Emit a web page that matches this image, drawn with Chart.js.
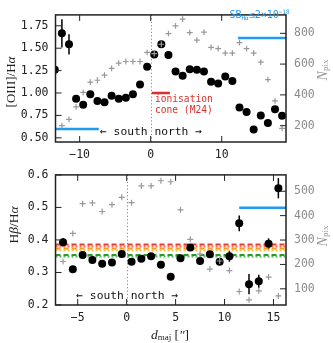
<!DOCTYPE html>
<html lang="en">
<head>
<meta charset="UTF-8">
<title>Line ratios along the major axis</title>
<script src="https://cdn.jsdelivr.net/npm/chart.js@4"></script>
<style>
    body { margin: 0; background: #fff; }
    canvas { position: absolute; left: 0; }
</style>
</head>
<body>
<canvas id="chartTop" width="333" height="160" style="top:0px"></canvas>
<canvas id="chartBottom" width="333" height="183" style="top:160px"></canvas>

<script>
// ---- top panel: [OIII]/Halpha and N_pix ----
const dTop = [-13.5, -12.5, -11.5, -10.5, -9.5, -8.5, -7.5, -6.5, -5.5, -4.5, -3.5,
    -2.5, -1.5, -0.5, 0.5, 1.5, 2.5, 3.5, 4.5, 5.5, 6.5, 7.5, 8.5, 9.5, 10.5,
    11.5, 12.5, 13.5, 14.5, 15.5, 16.5, 17.5, 18.5];
const oiiiHa = [1.26, 1.666, 1.544, 0.936, 0.869, 0.987, 0.912, 0.896, 0.97, 0.935, 0.946,
    0.987, 1.095, 1.294, 1.429, 1.544, 1.423, 1.24, 1.193, 1.264, 1.26, 1.24, 1.125, 1.105, 1.183,
    1.135, 0.838, 0.787, 0.592, 0.75, 0.666, 0.818, 0.747];
const oiiiErr = [0, 0.157, 0.113, 0, 0, 0, 0, 0, 0, 0, 0,
    0, 0, 0, 0, 0, 0, 0, 0, 0, 0, 0, 0, 0, 0,
    0, 0, 0, 0, 0, 0, 0, 0];
const nPixTop = [null, 200, 241, 322, 416, 483, 495, 529, 572, 607, 617,
    617, 617, 676, 668, 729, 798, 849, 892, 804, 756, 808, 709, 700, 672,
    672, 739, 701, 672, 613, 499, 361, 182];
const xTicksTop = [-10, 0, 10];
const yTicksTop = [0.5, 0.75, 1.0, 1.25, 1.5, 1.75];
const nTicksTop = [200, 400, 600, 800];
const sbLowTopLeft = [[-13.4, 0.598], [-7.3, 0.598]];
const sbLowTopRight = [[12.3, 1.615], [19.05, 1.615]];
const coneLine = [[0.15, 1.0], [2.7, 1.0]];

// ---- bottom panel: Hbeta/Halpha and N_pix ----
const dBot = [-6.5, -5.5, -4.5, -3.5, -2.5, -1.5, -0.5, 0.5, 1.5, 2.5, 3.5, 4.5,
    5.5, 6.5, 7.5, 8.5, 9.5, 10.5, 11.5, 12.5, 13.5, 14.5, 15.5];
const hbHa = [0.393, 0.31, 0.354, 0.338, 0.327, 0.331, 0.357, 0.333, 0.342, 0.35, 0.324, 0.287,
    0.344, 0.377, 0.335, 0.356, 0.333, 0.35, 0.451, 0.264, 0.273, 0.388, 0.559];
const hbErr = [0.013, 0.006, 0.006, 0.006, 0.006, 0.006, 0.006, 0.006, 0.006, 0.006, 0.006, 0.006,
    0.006, 0.006, 0.006, 0.006, 0.006, 0.017, 0.024, 0.031, 0.02, 0.017, 0.031];
const nPixBot = [212, 327, 449, 452, 417, 445, 475, 453, 522, 522, 543, 539,
    424, 303, 242, 181, 214, 175, 89, 55, 92, 148, 71];
const xTicksBot = [-5, 0, 5, 10, 15];
const yTicksBot = [0.2, 0.3, 0.4, 0.5, 0.6];
const nTicksBot = [100, 200, 300, 400, 500];
const sbLowBot = [[11.5, 0.499], [16.28, 0.499]];
// theoretical Hbeta/Halpha levels
const refLevels = [0.386, 0.380, 0.374, 0.368, 0.354, 0.349];
const refColors = ['#ee3b2b', '#ff6a4a', '#ff9a1a', '#ffc040', '#2a9a2a', '#55bb55'];
const refDash = [[5, 3], [2, 2], [5, 3], [2, 2], [5, 3], [2, 2]];
</script>

<script>
const blue = '#1e9bf0';
const red = '#d9302c';
const mono = 'DejaVu Sans Mono';
const serif = 'Liberation Serif';

function ticksAt(list) {
    return function (scale) { scale.ticks = list.map(v => ({ value: v })); };
}
function fixSize(prop, size) {
    return function (scale) { scale[prop] = size; };
}
function fmtMinus(v) {
    return String(v).replace('-', '\u2212');
}
function pts(xs, ys) {
    return xs.map((x, i) => ({ x: x, y: ys[i] }));
}
function seg(pairs) {
    return pairs.map(p => ({ x: p[0], y: p[1] }));
}

// text with mixed fonts, centred on (cx, cy)
function drawRich(ctx, parts, cx, cy, color) {
    let total = 0;
    parts.forEach(p => { ctx.font = p[1]; total += ctx.measureText(p[0]).width; });
    let x = cx - total / 2;
    ctx.fillStyle = color;
    ctx.textBaseline = 'middle';
    ctx.textAlign = 'left';
    parts.forEach(p => {
        ctx.font = p[1];
        ctx.fillText(p[0], x, cy + (p[2] || 0));
        x += ctx.measureText(p[0]).width;
    });
}
function drawRichUp(ctx, parts, cx, cy, color) {
    ctx.save();
    ctx.translate(cx, cy);
    ctx.rotate(-Math.PI / 2);
    drawRich(ctx, parts, 0, 0, color);
    ctx.restore();
}

// frame, inward ticks, zero line and error bars
const frame = {
    id: 'frame',
    beforeDatasetsDraw(chart, args, o) {
        const ctx = chart.ctx, a = chart.chartArea;
        const sx = chart.scales.x, sy = chart.scales.y;
        ctx.save();
        ctx.strokeStyle = '#888';
        ctx.lineWidth = 1;
        ctx.setLineDash([1.2, 2.2]);
        const x0 = Math.round(sx.getPixelForValue(0)) + 0.5;
        ctx.beginPath();
        ctx.moveTo(x0, a.top);
        ctx.lineTo(x0, a.bottom);
        ctx.stroke();
        ctx.setLineDash([]);
        ctx.strokeStyle = '#000';
        ctx.lineWidth = 1.5;
        o.xs.forEach((x, i) => {
            const e = o.errs[i];
            if (!e) return;
            const px = sx.getPixelForValue(x);
            ctx.beginPath();
            ctx.moveTo(px, sy.getPixelForValue(o.ys[i] - e));
            ctx.lineTo(px, sy.getPixelForValue(o.ys[i] + e));
            ctx.stroke();
        });
        ctx.restore();
    },
    afterDatasetsDraw(chart, args, o) {
        const ctx = chart.ctx, a = chart.chartArea;
        const len = 6;
        ctx.save();
        ctx.strokeStyle = '#222';
        ctx.lineWidth = 1;
        ctx.beginPath();
        o.tx.forEach(v => {
            const p = chart.scales.x.getPixelForValue(v);
            ctx.moveTo(p, a.bottom); ctx.lineTo(p, a.bottom - len);
            ctx.moveTo(p, a.top); ctx.lineTo(p, a.top + len);
        });
        o.ty.forEach(v => {
            const p = chart.scales.y.getPixelForValue(v);
            ctx.moveTo(a.left, p); ctx.lineTo(a.left + len, p);
        });
        o.tn.forEach(v => {
            const p = chart.scales.yN.getPixelForValue(v);
            ctx.moveTo(a.right, p); ctx.lineTo(a.right - len, p);
        });
        ctx.stroke();
        ctx.lineWidth = 1.5;
        ctx.strokeRect(a.left, a.top, a.right - a.left, a.bottom - a.top);
        ctx.restore();
    }
};

function axes(xMin, xMax, xTicks, xHeight, yMin, yMax, yTicks, yDigits, nMin, nMax, nTicks) {
    const tickFont = { family: mono, size: 11.5 };
    return {
        x: {
            type: 'linear', min: xMin, max: xMax,
            afterBuildTicks: ticksAt(xTicks), afterFit: fixSize('height', xHeight),
            grid: { display: false, drawTicks: false }, border: { display: false },
            ticks: { padding: 6, font: tickFont, color: '#222', maxRotation: 0, autoSkip: false,
                callback: v => fmtMinus(v) }
        },
        y: {
            position: 'left', min: yMin, max: yMax,
            afterBuildTicks: ticksAt(yTicks), afterFit: fixSize('width', 55.5),
            grid: { display: false, drawTicks: false }, border: { display: false },
            ticks: { padding: 7, font: tickFont, color: '#222', autoSkip: false,
                callback: v => v.toFixed(yDigits) }
        },
        yN: {
            position: 'right', min: nMin, max: nMax,
            afterBuildTicks: ticksAt(nTicks), afterFit: fixSize('width', 47),
            grid: { display: false, drawTicks: false }, border: { display: false },
            ticks: { padding: 8, font: tickFont, color: '#8c8c8c', autoSkip: false }
        }
    };
}

const plusStyle = { pointStyle: 'cross', pointRadius: 2.9, borderColor: '#999', borderWidth: 1.2,
    pointHoverRadius: 0, yAxisID: 'yN', order: 0, clip: 0 };
const dotStyle = { pointRadius: 4, backgroundColor: '#000', borderColor: '#000', borderWidth: 0,
    pointHoverRadius: 0, yAxisID: 'y', order: 1, clip: 0 };
function lineSet(data, color, width, dash) {
    return { data: data, showLine: true, borderColor: color, borderWidth: width, borderDash: dash || [],
        pointRadius: 0, pointHoverRadius: 0, yAxisID: 'y', order: 2, clip: 0 };
}
</script>

<script>
const topText = {
    id: 'topText',
    afterDraw(chart) {
        const ctx = chart.ctx;
        const x0 = chart.scales.x.getPixelForValue(0);
        ctx.save();
        drawRich(ctx, [['\u2190 south north \u2192', '11.3px ' + mono]], x0 + 0.3, 131.7, '#111');
        ctx.font = '9.6px ' + mono;
        ctx.fillStyle = red;
        ctx.textAlign = 'left';
        ctx.textBaseline = 'middle';
        ctx.fillText('ionisation', x0 + 4.3, 99.5);
        ctx.fillText('cone (M24)', x0 + 4.3, 110.3);
        drawRich(ctx, [['SB', '10px ' + mono], ['H\u03b1', '6px ' + mono, 2.5],
            ['\u22642\u00d710', '10px ' + mono], ['\u221218', '6px ' + mono, -3.5]], 259.5, 15.8, blue);
        drawRichUp(ctx, [['[OIII]/H', '13px ' + serif], ['\u03b1', 'italic 13px ' + serif]], 12, 82, '#222');
        drawRichUp(ctx, [['N', 'italic 14px ' + serif], ['pix', '9px ' + serif, 3]], 323, 70, '#9a9a9a');
        ctx.restore();
    }
};

const chartTop = new Chart(document.getElementById('chartTop'), {
    type: 'scatter',
    data: {
        datasets: [
            Object.assign({ data: pts(dTop, nPixTop) }, plusStyle),
            Object.assign({ data: pts(dTop, oiiiHa) }, dotStyle),
            lineSet(seg(sbLowTopLeft), blue, 2.5),
            lineSet(seg(sbLowTopRight), blue, 2.5),
            lineSet(seg(coneLine), red, 2.5)
        ]
    },
    options: {
        responsive: false,
        animation: false,
        events: [],
        layout: { padding: { top: 2 } },
        plugins: {
            legend: { display: false },
            tooltip: { enabled: false },
            frame: { xs: dTop, ys: oiiiHa, errs: oiiiErr, tx: xTicksTop, ty: yTicksTop, tn: nTicksTop }
        },
        scales: axes(-13.4, 19.05, xTicksTop, 18, 0.4531, 1.8716, yTicksTop, 2, 93.8, 919.8, nTicksTop)
    },
    plugins: [frame, topText]
});
</script>

<script>
const bottomText = {
    id: 'bottomText',
    afterDraw(chart) {
        const ctx = chart.ctx;
        const x0 = chart.scales.x.getPixelForValue(0);
        ctx.save();
        drawRich(ctx, [['\u2190 south north \u2192', '11.3px ' + mono]], x0 + 0.6, 136.3, '#111');
        drawRichUp(ctx, [['H', '13.5px ' + serif], ['\u03b2', 'italic 13.5px ' + serif],
            ['/H', '13.5px ' + serif], ['\u03b1', 'italic 13.5px ' + serif]], 14, 65, '#222');
        drawRichUp(ctx, [['N', 'italic 14px ' + serif], ['pix', '9px ' + serif, 3]], 323, 76, '#9a9a9a');
        drawRich(ctx, [['d', 'italic 13.5px ' + serif], ['maj', '9px ' + serif, 3],
            [' [', '13.5px ' + serif], ['\u2033', 'italic 13.5px ' + serif], [']', '13.5px ' + serif]], 170, 175, '#222');
        ctx.restore();
    }
};

const refSets = refLevels.map((v, i) =>
    lineSet(seg([[-7.27, v], [16.28, v]]), refColors[i], 2, refDash[i]));

const chartBottom = new Chart(document.getElementById('chartBottom'), {
    type: 'scatter',
    data: {
        datasets: [
            Object.assign({ data: pts(dBot, nPixBot) }, plusStyle, { pointRadius: 3 }),
            Object.assign({ data: pts(dBot, hbHa) }, dotStyle),
            lineSet(seg(sbLowBot), blue, 2.5)
        ].concat(refSets)
    },
    options: {
        responsive: false,
        animation: false,
        events: [],
        layout: { padding: { top: 4.7 } },
        plugins: {
            legend: { display: false },
            tooltip: { enabled: false },
            frame: { xs: dBot, ys: hbHa, errs: hbErr, tx: xTicksBot, ty: yTicksBot, tn: nTicksBot }
        },
        scales: axes(-7.27, 16.28, xTicksBot, 38, 0.2, 0.6, yTicksBot, 1, 33.7, 567, nTicksBot)
    },
    plugins: [frame, bottomText]
});
</script>
</body>
</html>
